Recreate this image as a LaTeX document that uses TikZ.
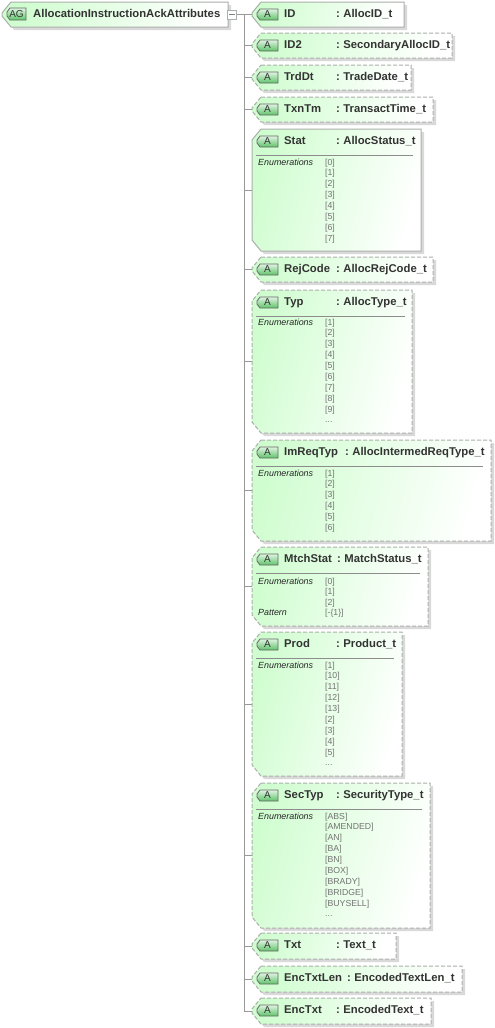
\documentclass[tikz,border=0pt]{standalone}
\usepackage{fontspec}
\setmainfont{Liberation Sans}
\usetikzlibrary{calc, shadows}
\definecolor{attrgreen}{HTML}{D0FDD0}
\definecolor{badgegreen}{HTML}{5FC46A}
\definecolor{edgegray}{HTML}{ABAFAB}
\definecolor{inkgray}{HTML}{333333}
\newcommand{\moreval}{...}
\newcommand{\cutoutline}[3]{($(#1.north west)+(#2,0)$) -- (#1.north east) -- (#1.south east)
  -- ($(#1.south west)+(#2,0)$) -- ($(#1.south west)+(0,-#3)$) -- ($(#1.north west)+(0,#3)$) -- cycle}
\tikzset{
  frame/.style={anchor=north west, rectangle, inner sep=0pt, outer sep=0pt},
  cutbox/.style={draw=edgegray, line width=1pt, left color=attrgreen, middle color=attrgreen!35,
    right color=white, shading angle=75,
    drop shadow={shadow xshift=3pt, shadow yshift=-3pt, fill=black!15, opacity=1}},
  solid box/.style={cutbox},
  dash box/.style={cutbox, dash pattern=on 4pt off 2pt},
  badge/.style={draw=black!60, line width=0.8pt, top color=white!80!badgegreen, bottom color=badgegreen},
  badge text/.style={inner sep=0pt, font=\fontsize{10}{10}\selectfont, text=inkgray},
  title/.style={anchor=base west, inner sep=0pt, font=\fontsize{11.3}{13}\selectfont\bfseries, text=inkgray},
  facet/.style={anchor=base west, inner sep=0pt, font=\fontsize{8.9}{10}\selectfont\itshape, text=black!85},
  enumval/.style={anchor=base west, inner sep=0pt, font=\fontsize{8.7}{10}\selectfont, text=black!55},
  conn/.style={draw=black!40, line width=0.8pt},
}
\begin{document}
\begin{tikzpicture}[x=1pt, y=-1pt]
  \useasboundingbox (0,0) rectangle (495,1028);

  % Group box on the left
  \node[frame, minimum width=226pt, minimum height=25pt] (group) at (2,2) {};
  \draw[solid box] \cutoutline{group}{9}{11};
  \node[frame, minimum width=19pt, minimum height=12pt] (groupbadge) at (7,8) {};
  \draw[badge] \cutoutline{groupbadge}{3}{4};
  \node[badge text] (groupbadgetext) at (groupbadge.center) {AG};
  \node[title] (grouptitle) at (33,17) {AllocationInstructionAckAttributes};
  \node[draw=edgegray, fill=white, minimum size=9pt, inner sep=0pt] (expander) at (232,14.5) {};
  \draw[black!50] (expander.center) +(-3,0) -- +(3,0);
  \coordinate (trunktop) at (244,14.5);

  % Attribute boxes: name/top/bottom/right/style/name text/colon x/type text
  \foreach \nm/\tp/\bt/\rt/\sty/\lbl/\cx/\typ in {
    id/2/27/404/solid box/ID/336/AllocID\_t,
    idtwo/33/58/452/dash box/ID2/336/SecondaryAllocID\_t,
    trddt/65/90/411/dash box/TrdDt/336/TradeDate\_t,
    txntm/97/122/433/dash box/TxnTm/336/TransactTime\_t,
    stat/129/251/421/solid box/Stat/336/AllocStatus\_t,
    rejcode/257/282/433/dash box/RejCode/336/AllocRejCode\_t,
    typ/290/433/412/dash box/Typ/336/AllocType\_t,
    imreqtyp/440/541/491/dash box/ImReqTyp/345/AllocIntermedReqType\_t,
    mtchstat/547/626/428/dash box/MtchStat/337/MatchStatus\_t,
    prod/632/776/402/dash box/Prod/336/Product\_t,
    sectyp/783/928/430/dash box/SecTyp/336/SecurityType\_t,
    txt/933/959/396/dash box/Txt/336/Text\_t,
    enctxtlen/966/992/462/dash box/EncTxtLen/347/EncodedTextLen\_t,
    enctxt/998/1024/431/dash box/EncTxt/336/EncodedText\_t} {
    \pgfmathsetmacro{\boxw}{\rt-252}
    \pgfmathsetmacro{\boxh}{\bt-\tp}
    \pgfmathsetmacro{\bady}{\tp+7}
    \pgfmathsetmacro{\baseln}{\tp+15.5}
    \node[frame, minimum width=\boxw pt, minimum height=\boxh pt] (\nm) at (252,\tp) {};
    \draw[\sty] \cutoutline{\nm}{9}{11};
    \node[frame, minimum width=21pt, minimum height=11pt] (\nm badge) at (257,\bady) {};
    \draw[badge] \cutoutline{\nm badge}{3}{4};
    \node[badge text] (\nm badgetext) at (\nm badge.center) {A};
    \node[title] (\nm label) at (284,\baseln) {\lbl};
    \node[title] (\nm colon) at (\cx,\baseln) {:};
    \node[title, xshift=3pt] (\nm type) at (\nm colon.base east) {\typ};
    \draw[conn] (trunktop |- \nm.west) -- (\nm.west);
  }

  % Trunk and link to the expander
  \draw[conn] (expander.east) -- (id.west);
  \draw[conn] (trunktop) -- (trunktop |- enctxt.west);

  % Separators and enumeration lists: box/top/right/first baseline/values
  \foreach \nm/\tp/\rt/\fy/\vals in {
    stat/129/413/165/{[0],[1],[2],[3],[4],[5],[6],[7]},
    typ/290/405/325/{[1],[2],[3],[4],[5],[6],[7],[8],[9],\moreval},
    imreqtyp/440/483/476/{[1],[2],[3],[4],[5],[6]},
    mtchstat/547/420/584/{[0],[1],[2]},
    prod/632/394/668/{[1],[10],[11],[12],[13],[2],[3],[4],[5],\moreval},
    sectyp/783/422/819/{[ABS],[AMENDED],[AN],[BA],[BN],[BOX],[BRADY],[BRIDGE],[BUYSELL],\moreval}} {
    \pgfmathsetmacro{\ruley}{\tp+26}
    \coordinate (\nm ruleleft) at (256,\ruley);
    \coordinate (\nm ruleright) at (\rt,\ruley);
    \draw[black!45, line width=0.8pt] (\nm ruleleft) -- (\nm ruleright);
    \node[facet] (\nm facet) at (258,\fy) {Enumerations};
    \foreach \valtxt [count=\idx from 0] in \vals {
      \pgfmathsetmacro{\vy}{\fy+10.88*\idx}
      \node[enumval] (\nm val\idx) at (325,\vy) {\valtxt};
    }
  }
  \node[facet] (mtchpattern) at (258,615) {Pattern};
  \node[enumval] (mtchpatval) at (325,615) {[-\{1\}]};
\end{tikzpicture}
\end{document}
